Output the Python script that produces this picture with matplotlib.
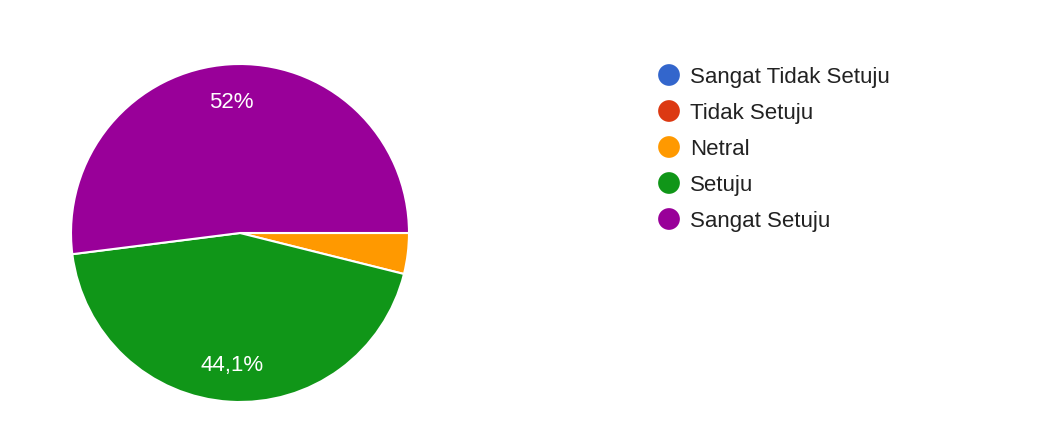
import matplotlib
matplotlib.use("Agg")
import matplotlib.pyplot as plt

categories = ["Sangat Tidak Setuju", "Tidak Setuju", "Netral", "Setuju", "Sangat Setuju"]
values = [0.0, 0.0, 3.9, 44.1, 52.0]
colors = ["#3366cc", "#dc3912", "#ff9900", "#109618", "#990099"]

plt.rcParams['font.family'] = ['Liberation Sans', 'DejaVu Sans']

W, H = 1039, 439
fig = plt.figure(figsize=(W / 100, H / 100), dpi=100)

# Pie axes
cx, cy, r = 240, 234, 169
ax = fig.add_axes([(cx - r) / W, (H - cy - r) / H, 2 * r / W, 2 * r / H])


def fmt(p):
    if p < 5:
        return ""
    s = f"{p:.1f}".rstrip("0").rstrip(".")
    return s.replace(".", ",") + "%"


wedges, texts, autotexts = ax.pie(
    values, colors=colors, startangle=0, counterclock=False,
    autopct=fmt, pctdistance=0.78,
    wedgeprops=dict(edgecolor="white", linewidth=1.5),
    textprops=dict(color="white", fontsize=16),
)
ax.set_xlim(-1.0, 1.0)
ax.set_ylim(-1.0, 1.0)
ax.set_aspect("equal")
ax.axis("off")

# Legend overlay in pixel coordinates
lax = fig.add_axes([0, 0, 1, 1])
lax.set_xlim(0, W)
lax.set_ylim(H, 0)
lax.axis("off")
lx, ly0, dy = 669, 76, 36
for i, (cat, col) in enumerate(zip(categories, colors)):
    y = ly0 + i * dy
    lax.scatter([lx], [y], s=245, color=col, edgecolors="none")
    lax.text(lx + 21, y + 2, cat, fontsize=16, color="#222222", va="center", ha="left")

fig.savefig("out.png", dpi=100, facecolor="white")
